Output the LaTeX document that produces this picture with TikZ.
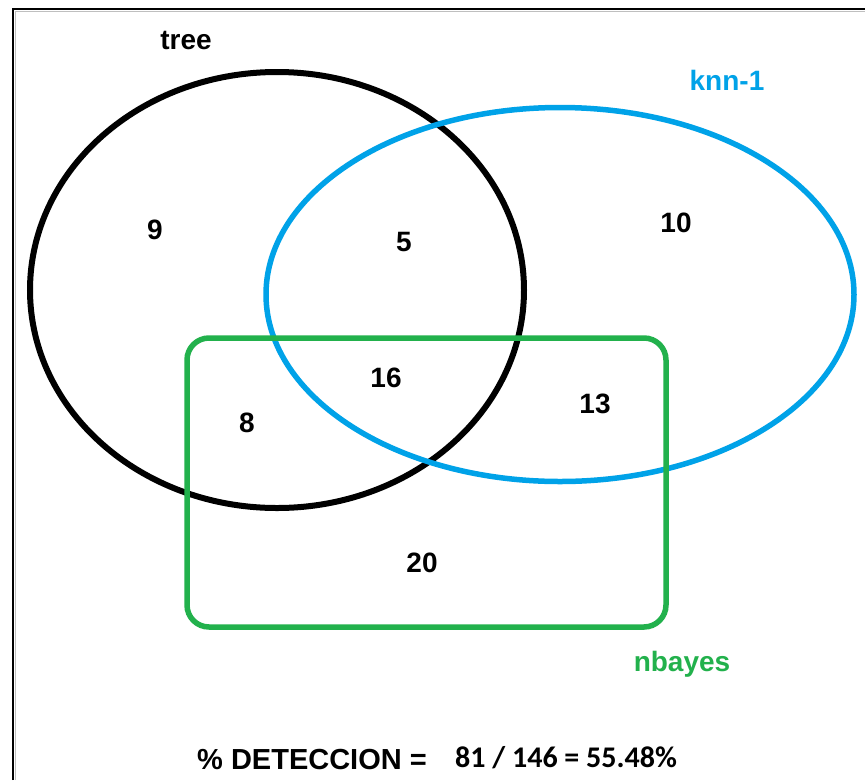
\documentclass[tikz,border=0pt]{standalone}
\usepackage{fontspec}
\setmainfont{Liberation Sans}
\newfontfamily\calib{Carlito}
\definecolor{paintblue}{HTML}{00A2E8}
\definecolor{paintgreen}{HTML}{22B14C}
\begin{document}
\begin{tikzpicture}[x=1pt,y=-1pt,
  lbl/.style={inner sep=0pt, font=\fontsize{28}{32}\selectfont\bfseries},
  num/.style={inner sep=0pt, font=\fontsize{28}{32}\selectfont\bfseries}]
\useasboundingbox (0,0) rectangle (865,780);
\fill[white] (0,0) rectangle (865,780);
% frame
\draw[black!25, line width=1pt] (15.5,780) -- (15.5,11.5) -- (865,11.5);
\draw[black, line width=2pt] (13,780) -- (13,9) -- (865,9);
% sets
\draw[black, line width=6pt] (277,290) ellipse [x radius=247pt, y radius=218pt];
\draw[paintblue, line width=5.5pt] (560,294.5) ellipse [x radius=294pt, y radius=187pt];
\draw[paintgreen, line width=5.5pt, rounded corners=22pt] (187,338) rectangle (666,627);
% set labels
\node[lbl, anchor=base] (tree) at (186,49) {tree};
\node[lbl, anchor=base, text=paintblue] (knn) at (727,90) {knn-1};
\node[lbl, anchor=base, text=paintgreen] (nb) at (682,671) {nbayes};
% counts
\node[num] (n9) at (155,230) {9};
\node[num] (n5) at (404,242) {5};
\node[num] (n10) at (676,223) {10};
\node[num] (n16) at (386,378) {16};
\node[num] (n13) at (595,404) {13};
\node[num] (n8) at (247,423) {8};
\node[num] (n20) at (422,563) {20};
% result
\node[lbl, anchor=base west] (det) at (197,769) {\fontsize{29}{32}\selectfont\% DETECCION =};
\node[inner sep=0pt, anchor=base west, font=\calib\fontsize{30}{32}\selectfont\bfseries] (res) at (455,767) {81 / 146 = 55.48\%};
\end{tikzpicture}
\end{document}
